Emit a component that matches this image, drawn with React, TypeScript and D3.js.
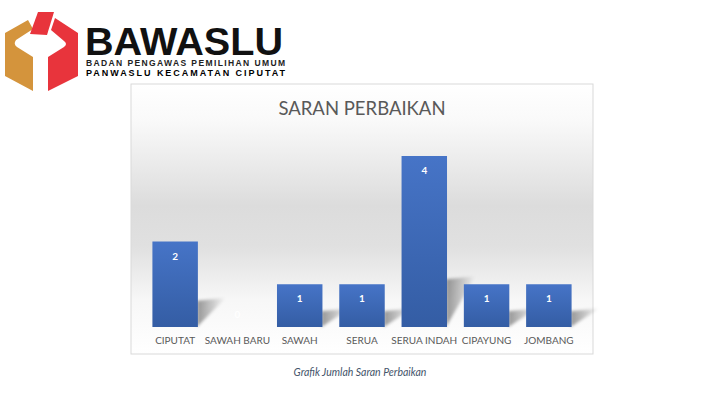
import { useEffect, useRef } from "react";
import * as d3 from "d3";

const categories = [
  "CIPUTAT",
  "SAWAH BARU",
  "SAWAH",
  "SERUA",
  "SERUA INDAH",
  "CIPAYUNG",
  "JOMBANG",
];
const values = [2, 0, 1, 1, 4, 1, 1];
const chartTitle = "SARAN PERBAIKAN";
const caption = "Grafik Jumlah Saran Perbaikan";
const logoTitle = "BAWASLU";
const logoLine1 = "BADAN PENGAWAS PEMILIHAN UMUM";
const logoLine2 = "PANWASLU KECAMATAN CIPUTAT";

export default function App() {
  const svgRef = useRef<SVGSVGElement>(null);

  useEffect(() => {
    if (!svgRef.current) return;
    const width = 720;
    const height = 401;
    const svg = d3.select(svgRef.current);
    svg.selectAll("*").remove();
    svg.attr("width", width).attr("height", height);

    const defs = svg.append("defs");

    // background gradient of the chart area
    const bg = defs
      .append("linearGradient")
      .attr("id", "bg")
      .attr("x1", 0)
      .attr("y1", 0)
      .attr("x2", 0)
      .attr("y2", 1);
    [
      [0, "#ffffff"],
      [0.14, "#f9f9f9"],
      [0.45, "#dcdcdc"],
      [0.6, "#e0e0e0"],
      [0.8, "#f7f7f7"],
      [1, "#ffffff"],
    ].forEach(([o, c]) =>
      bg.append("stop").attr("offset", o as number).attr("stop-color", c as string)
    );

    const barGrad = defs
      .append("linearGradient")
      .attr("id", "bar")
      .attr("x1", 0)
      .attr("y1", 0)
      .attr("x2", 0)
      .attr("y2", 1);
    barGrad.append("stop").attr("offset", 0).attr("stop-color", "#4674c7");
    barGrad.append("stop").attr("offset", 1).attr("stop-color", "#345da4");

    // shadow fades away from the bar's right side
    const shadowGrad = defs
      .append("linearGradient")
      .attr("id", "shadow")
      .attr("x1", 0)
      .attr("y1", 0)
      .attr("x2", 1)
      .attr("y2", 0);
    shadowGrad.append("stop").attr("offset", 0).attr("stop-color", "#000").attr("stop-opacity", 0.4);
    shadowGrad.append("stop").attr("offset", 1).attr("stop-color", "#000").attr("stop-opacity", 0);

    defs
      .append("filter")
      .attr("id", "blur")
      .attr("x", "-30%")
      .attr("y", "-30%")
      .attr("width", "160%")
      .attr("height", "160%")
      .append("feGaussianBlur")
      .attr("stdDeviation", 1.8);

    // ---- logo ----
    const logo = svg.append("g");
    logo
      .append("path")
      .attr("d", "M28,20 L33,29 L16,40 Q13,44 17,47 L33,57 L33,91 L5,76 L5,33 Z")
      .attr("fill", "#d4943c");
    logo
      .append("path")
      .attr("d", "M55,18 L78,33 L78,76 L48,91 L48,57 L64,47 Q68,44 64,41 L51,30 Z")
      .attr("fill", "#e8343c");
    logo
      .append("path")
      .attr("d", "M38,12 L54,12 L47,35 L30,34 Z")
      .attr("fill", "#e8343c");

    logo
      .append("text")
      .attr("x", 85)
      .attr("y", 55)
      .attr("font-family", "Liberation Sans, Arial, sans-serif")
      .attr("font-weight", "bold")
      .attr("font-size", 39)
      .attr("textLength", 198)
      .attr("lengthAdjust", "spacingAndGlyphs")
      .attr("fill", "#111")
      .text(logoTitle);
    logo
      .append("text")
      .attr("x", 86)
      .attr("y", 65.5)
      .attr("font-family", "Liberation Sans, Arial, sans-serif")
      .attr("font-weight", "bold")
      .attr("font-size", 8.5)
      .attr("textLength", 199)
      .attr("lengthAdjust", "spacing")
      .attr("fill", "#222")
      .text(logoLine1);
    logo
      .append("text")
      .attr("x", 86)
      .attr("y", 75.5)
      .attr("font-family", "Liberation Sans, Arial, sans-serif")
      .attr("font-weight", "bold")
      .attr("font-size", 9)
      .attr("textLength", 199)
      .attr("lengthAdjust", "spacing")
      .attr("fill", "#000")
      .text(logoLine2);

    // ---- chart box ----
    const box = { x: 131, y: 84, w: 462, h: 270 };
    svg
      .append("rect")
      .attr("x", box.x)
      .attr("y", box.y)
      .attr("width", box.w)
      .attr("height", box.h)
      .attr("fill", "url(#bg)")
      .attr("stroke", "#d9d9d9")
      .attr("stroke-width", 1);

    svg
      .append("text")
      .attr("x", 362)
      .attr("y", 115)
      .attr("text-anchor", "middle")
      .attr("font-family", "Lato, sans-serif")
      .attr("font-size", 18.5)
      .attr("fill", "#595959")
      .text(chartTitle);

    const x = d3
      .scaleBand<string>()
      .domain(categories)
      .range([144, 580])
      .paddingInner(0.27)
      .paddingOuter(0.135);
    const y = d3.scaleLinear().domain([0, 4]).range([327, 156]);

    const data = categories.map((c, i) => ({ c, v: values[i] }));

    // shadows
    svg
      .append("g")
      .selectAll("path")
      .data(data.filter((d) => d.v > 0))
      .join("path")
      .attr("d", (d) => {
        const x1 = x(d.c)! + x.bandwidth();
        const base = y(0);
        const h = base - y(d.v);
        const dx = 28;
        const dy = 5 + 0.25 * h;
        return `M${x1 - 1},${base} L${x1 - 1},${base - dy} L${x1 + dx},${base - dy - 3} Z`;
      })
      .attr("fill", "url(#shadow)")
      .attr("filter", "url(#blur)");

    svg
      .append("g")
      .selectAll("rect")
      .data(data)
      .join("rect")
      .attr("x", (d) => x(d.c)!)
      .attr("y", (d) => y(d.v))
      .attr("width", x.bandwidth())
      .attr("height", (d) => y(0) - y(d.v))
      .attr("fill", "url(#bar)");

    svg
      .append("g")
      .selectAll("text")
      .data(data)
      .join("text")
      .attr("x", (d) => x(d.c)! + x.bandwidth() / 2)
      .attr("y", (d) => (d.v === 0 ? y(0) - 9 : y(d.v) + 18))
      .attr("text-anchor", "middle")
      .attr("font-family", "Lato, sans-serif")
      .attr("font-weight", "bold")
      .attr("font-size", 10)
      .attr("fill", "#ffffff")
      .text((d) => d.v);

    const axis = svg
      .append("g")
      .attr("transform", `translate(0,${y(0)})`)
      .call(d3.axisBottom(x).tickSize(0).tickPadding(10));
    axis.select(".domain").remove();
    axis
      .selectAll("text")
      .attr("font-family", "Lato, sans-serif")
      .attr("font-size", 10)
      .attr("fill", "#595959");

    svg
      .append("text")
      .attr("x", 360)
      .attr("y", 376)
      .attr("text-anchor", "middle")
      .attr("font-family", "Lato, sans-serif")
      .attr("font-style", "italic")
      .attr("font-size", 10.5)
      .attr("fill", "#44546a")
      .text(caption);
  }, []);

  return (
    <svg
      ref={svgRef}
      style={{ position: "absolute", left: 0, top: 0, background: "#fff" }}
    />
  );
}
